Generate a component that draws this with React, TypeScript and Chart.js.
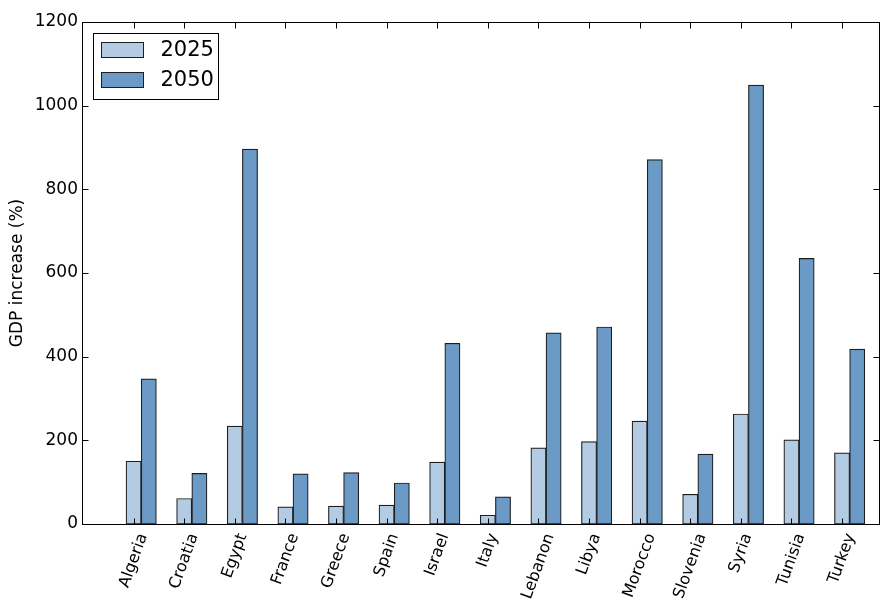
import { useEffect, useRef } from 'react';
import { Chart, registerables } from 'chart.js';

Chart.register(...registerables);

// ---- data ----
const countries = ['Algeria', 'Croatia', 'Egypt', 'France', 'Greece', 'Spain', 'Israel', 'Italy', 'Lebanon', 'Libya', 'Morocco', 'Slovenia', 'Syria', 'Tunisia', 'Turkey'];
const seriesLabels = ['2025', '2050'];
const gdp2025 = [150, 61, 234, 41, 43, 45, 148, 21, 182, 197, 246, 71, 263, 201, 170];
const gdp2050 = [347, 121, 896, 120, 123, 98, 432, 65, 457, 471, 871, 167, 1049, 635, 418];
const yTickValues = [0, 200, 400, 600, 800, 1000, 1200];
const yTitle = 'GDP increase (%)';

// ---- style ----
const LIGHT = '#b4cce3';
const DARK = '#6a9ac5';
const EDGE = '#1e1e1e';
const FONT = "'DejaVu Sans', sans-serif";
const BAR_SHIFT = 0.3;

const decorPlugin = {
  id: 'decor',
  afterDatasetsDraw(chart: any) {
    const { ctx, chartArea: a, scales } = chart;
    const xs = scales.x;
    const ys = scales.y;
    ctx.save();
    ctx.strokeStyle = '#000';
    ctx.lineWidth = 1;
    // frame
    const L = Math.round(a.left) - 0.5;
    const R = Math.round(a.right) - 0.5;
    const T = Math.round(a.top) + 0.5;
    const B = Math.round(a.bottom) + 0.5;
    ctx.strokeRect(L, T, R - L, B - T);
    // tick marks (inward)
    ctx.beginPath();
    yTickValues.forEach((v) => {
      const py = Math.round(ys.getPixelForValue(v)) + 0.5;
      ctx.moveTo(L, py); ctx.lineTo(L + 6, py);
      ctx.moveTo(R, py); ctx.lineTo(R - 6, py);
    });
    countries.forEach((_, i) => {
      const px = Math.round(xs.getPixelForValue(i)) + 0.5;
      ctx.moveTo(px, B); ctx.lineTo(px, B - 6);
      ctx.moveTo(px, T); ctx.lineTo(px, T + 6);
    });
    ctx.stroke();

    // rotated category labels (centered on tick)
    ctx.fillStyle = '#000';
    ctx.font = `16px ${FONT}`;
    ctx.textAlign = 'center';
    ctx.textBaseline = 'middle';
    const rad = (70 * Math.PI) / 180;
    const h = 16 * 1.17;
    countries.forEach((name, i) => {
      const px = xs.getPixelForValue(i);
      const w = ctx.measureText(name).width;
      const bh = w * Math.sin(rad) + h * Math.cos(rad);
      const cy = a.bottom + 7 + bh / 2;
      ctx.save();
      ctx.translate(px, cy);
      ctx.rotate(-rad);
      ctx.fillText(name, 0, 0);
      ctx.restore();
    });

    // legend
    const lx = Math.round(a.left) + 10.5;
    const ly = Math.round(a.top) + 11.5;
    ctx.fillStyle = '#fff';
    ctx.fillRect(lx, ly, 125, 66);
    ctx.strokeStyle = '#000';
    ctx.strokeRect(lx, ly, 125, 66);
    const colors = [LIGHT, DARK];
    ctx.font = `21px ${FONT}`;
    ctx.textAlign = 'left';
    seriesLabels.forEach((lab, k) => {
      const py = ly + 9 + k * 30;
      ctx.fillStyle = colors[k];
      ctx.fillRect(lx + 8, py, 42, 15);
      ctx.strokeStyle = EDGE;
      ctx.strokeRect(lx + 8, py, 42, 15);
      ctx.fillStyle = '#000';
      ctx.fillText(lab, lx + 67, py + 8);
    });
    ctx.restore();
  },
};

export default function App() {
  const ref = useRef<HTMLCanvasElement | null>(null);
  useEffect(() => {
    if (!ref.current) return;
    const chart = new Chart(ref.current, {
      type: 'bar',
      data: {
        datasets: [
          {
            label: seriesLabels[0],
            data: gdp2025.map((v, i) => ({ x: i, y: v })),
            backgroundColor: LIGHT,
            borderColor: EDGE,
            borderWidth: 1.2,
            borderSkipped: false,
          },
          {
            label: seriesLabels[1],
            data: gdp2050.map((v, i) => ({ x: i + BAR_SHIFT, y: v })),
            backgroundColor: DARK,
            borderColor: EDGE,
            borderWidth: 1.2,
            borderSkipped: false,
          },
        ],
      },
      options: {
        animation: false,
        responsive: true,
        maintainAspectRatio: false,
        devicePixelRatio: 1,
        events: [],
        layout: { padding: { top: 22, right: 1, bottom: 76, left: 0 } },
        datasets: {
          bar: { grouped: false, categoryPercentage: 1, barPercentage: 1 },
        },
        plugins: {
          legend: { display: false },
          tooltip: { enabled: false },
        },
        scales: {
          x: {
            type: 'linear',
            display: false,
            offset: false,
            min: -1,
            max: 14.75,
            ticks: { stepSize: 1 },
          },
          y: {
            min: 0,
            max: 1200,
            afterFit: (s: any) => { s.width = 83; },
            grid: { display: false, drawTicks: false },
            border: { display: false },
            ticks: {
              stepSize: 200,
              padding: 5,
              color: '#000',
              font: { family: FONT, size: 17 },
              callback: (v: any) => String(v),
            },
            title: {
              display: true,
              text: yTitle,
              color: '#000',
              font: { family: FONT, size: 17 },
              padding: { top: 7, bottom: 0 },
            },
          },
        },
      } as any,
      plugins: [decorPlugin],
    });
    return () => chart.destroy();
  }, []);
  return (
    <div style={{ position: 'fixed', left: 0, top: 0, width: 881, height: 600, background: '#fff' }}>
      <canvas ref={ref} />
    </div>
  );
}
